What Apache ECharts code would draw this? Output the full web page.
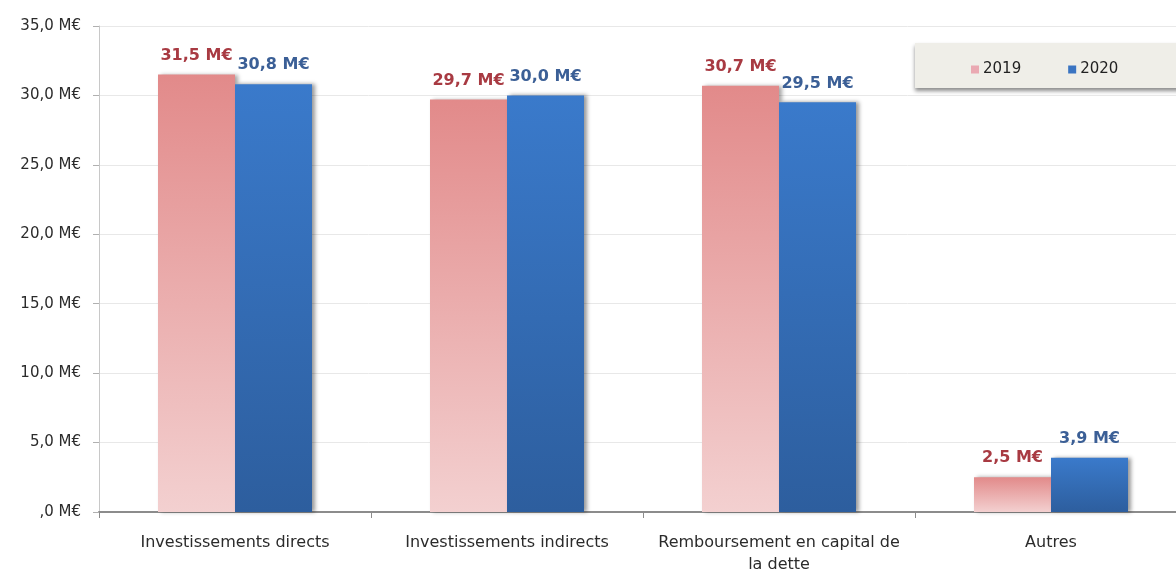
<!DOCTYPE html>
<html>
<head>
<meta charset="utf-8">
<script src="https://cdn.jsdelivr.net/npm/echarts@6/dist/echarts.min.js"></script>
<style>
  html, body { margin: 0; padding: 0; background: #ffffff; }
  #chart { width: 1176px; height: 574px; }
</style>
</head>
<body>
<div id="chart"></div>
<script>
// Dépenses d'investissement par nature (M€)
const categories = [
  'Investissements directs',
  'Investissements indirects',
  'Remboursement en capital de\nla dette',
  'Autres'
];
const years = ['2019', '2020'];
const values2019 = [31.5, 29.7, 30.7, 2.5];
const values2020 = [30.8, 30.0, 29.5, 3.9];

const FONT = '"DejaVu Sans", "Open Sans", sans-serif';

function fmt(v) {
  const s = v.toFixed(1).replace('.', ',');
  return (s === '0,0' ? ',0' : s) + ' M€';
}

const chart = echarts.init(document.getElementById('chart'));

chart.setOption({
  animation: false,
  backgroundColor: '#ffffff',
  textStyle: { fontFamily: FONT },
  graphic: [{
    type: 'rect',
    left: 915,
    top: 43,
    z: 0,
    shape: { width: 270, height: 45 },
    style: {
      fill: '#efeee8',
      shadowColor: 'rgba(0,0,0,0.45)',
      shadowBlur: 4,
      shadowOffsetY: 3
    }
  }],
  legend: {
    left: 966,
    top: 57,
    itemWidth: 8,
    itemHeight: 8,
    itemGap: 47,
    icon: 'rect',
    z: 10,
    textStyle: { fontFamily: FONT, fontSize: 15, color: '#222', padding: [0, 0, 0, -1] },
    data: [
      { name: years[0], itemStyle: { color: '#eaa9b2' } },
      { name: years[1], itemStyle: { color: '#3a74c2' } }
    ]
  },
  grid: {
    left: 99,
    top: 26,
    width: 1088,
    bottom: 62,
    containLabel: false,
    outerBoundsMode: 'none'
  },
  xAxis: {
    type: 'category',
    data: categories,
    axisLine: { lineStyle: { color: '#8c8c8c', width: 2 } },
    axisTick: { show: true, length: 6, lineStyle: { color: '#8c8c8c' } },
    axisLabel: {
      fontFamily: FONT,
      fontSize: 16,
      color: '#2b2b2b',
      margin: 20,
      lineHeight: 22,
      interval: 0
    }
  },
  yAxis: {
    type: 'value',
    min: 0,
    max: 35,
    interval: 5,
    axisLine: { show: true, lineStyle: { color: '#c8c8c8' } },
    axisTick: { show: true, length: 6, lineStyle: { color: '#b0b0b0' } },
    splitLine: { lineStyle: { color: '#e8e8e8' } },
    axisLabel: {
      fontFamily: FONT,
      fontSize: 15,
      color: '#2b2b2b',
      margin: 18,
      formatter: fmt
    }
  },
  series: [
    {
      name: '2019',
      type: 'bar',
      data: values2019,
      barWidth: 77,
      barGap: '0%',
      itemStyle: {
        color: new echarts.graphic.LinearGradient(0, 0, 0, 1, [
          { offset: 0, color: '#e28a8a' },
          { offset: 1, color: '#f3d0d0' }
        ]),
        shadowColor: 'rgba(0,0,0,0.35)',
        shadowBlur: 4,
        shadowOffsetX: 3
      },
      label: {
        show: true,
        position: 'top',
        distance: 11,
        formatter: p => fmt(p.value),
        fontFamily: FONT,
        fontSize: 16,
        fontWeight: 'bold',
        color: '#a83a42'
      }
    },
    {
      name: '2020',
      type: 'bar',
      data: values2020,
      barWidth: 77,
      itemStyle: {
        color: new echarts.graphic.LinearGradient(0, 0, 0, 1, [
          { offset: 0, color: '#3a7acb' },
          { offset: 1, color: '#2d5e9e' }
        ]),
        shadowColor: 'rgba(0,0,0,0.4)',
        shadowBlur: 4,
        shadowOffsetX: 3
      },
      label: {
        show: true,
        position: 'top',
        distance: 11,
        formatter: p => fmt(p.value),
        fontFamily: FONT,
        fontSize: 16,
        fontWeight: 'bold',
        color: '#3b5f96'
      }
    }
  ]
});
</script>
</body>
</html>
